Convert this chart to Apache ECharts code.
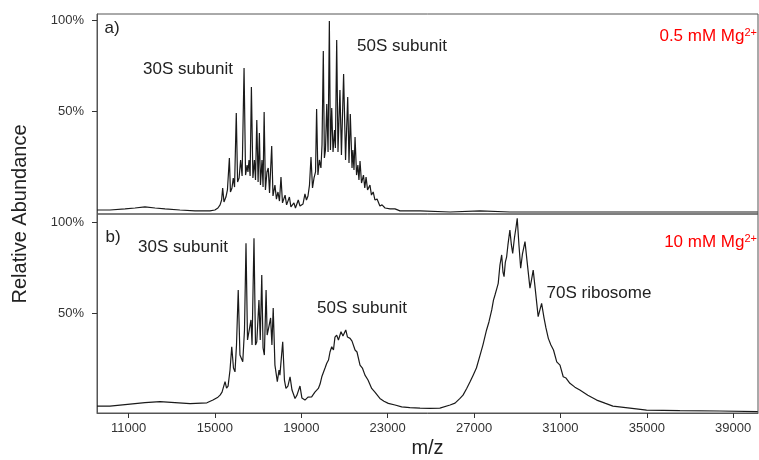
<!DOCTYPE html>
<html><head><meta charset="utf-8">
<script src="https://cdn.jsdelivr.net/npm/echarts@6/dist/echarts.min.js"></script>
<style>html,body{margin:0;padding:0;background:#fff}#c{width:759px;height:460px}</style>
</head><body><div id="c"></div>
<script>
// m/z tick labels
var xTicks = [11000, 15000, 19000, 23000, 27000, 31000, 35000, 39000];
var yTicks = [50, 100];

// Panel a) 0.5 mM Mg2+ : [m/z, relative abundance %]
var spectrumA = [
 [9540,-4.4],[10140,-4.4],[10840,-3.8],[11300,-3.3],[11760,-2.7],[12230,-3.3],[12690,-3.8],[13380,-4.4],[14080,-4.9],[14770,-4.9],
 [15000,-4.4],[15140,-3.3],[15240,-1.6],[15310,1.1],[15360,7.7],[15420,0],[15510,2.7],[15580,6.6],[15670,24.2],[15720,5.5],
 [15790,7.7],[15850,13.2],[15910,8.2],[15990,48.9],[16050,11.0],[16120,13.2],[16190,23.1],[16260,14.3],[16350,73.6],[16420,14.8],
 [16490,20.3],[16530,16.5],[16580,23.1],[16630,14.3],[16690,63.2],[16760,13.2],[16830,23.1],[16880,12.1],[16940,45.1],[17000,11.0],
 [17060,37.9],[17110,9.3],[17180,23.1],[17230,8.2],[17280,49.5],[17340,6.6],[17410,16.5],[17470,18.7],[17530,4.9],[17630,30.8],
 [17690,3.3],[17780,9.3],[17850,1.6],[17920,5.5],[17990,0.5],[18060,13.7],[18130,-0.5],[18250,3.8],[18320,-1.6],[18450,2.7],
 [18520,-2.7],[18660,-0.5],[18730,-3.3],[18860,1.1],[18940,-2.2],
 [19010,-2.7],[19080,-1.1],[19170,4.4],[19240,1.1],[19310,3.3],[19380,9.3],[19450,24.7],[19520,7.7],[19590,13.2],[19660,16.5],
 [19710,51.1],[19770,14.8],[19840,23.1],[19910,18.7],[19960,31.3],[20020,83.0],[20070,24.2],[20120,28.6],[20180,53.9],[20240,27.5],
 [20300,99.5],[20350,28.6],[20410,51.7],[20470,27.5],[20540,39.6],[20580,29.7],[20640,89.0],[20700,27.5],[20790,61.5],[20860,25.8],
 [20960,70.3],[21050,23.1],[21150,57.7],[21210,21.4],[21270,48.4],[21350,18.7],[21390,28.6],[21440,17.6],[21490,35.7],[21560,14.8],
 [21620,20.3],[21670,12.1],[21720,22.5],[21790,10.4],[21880,14.8],[21940,7.7],[22000,13.7],[22070,6.6],[22180,9.3],[22250,3.8],
 [22330,5.5],[22410,1.1],[22510,1.6],[22640,-2.2],[22740,-1.6],[22880,-3.3],[23110,-3.8],[23340,-3.8],[23570,-4.9],[24500,-4.9],
 [25890,-5.5],[27280,-4.9],[28660,-5.5],[30050,-5.5],[31440,-5.5],[32830,-5.5],[34220,-5.5],[35610,-5.5],[36990,-5.5],[38380,-5.5],[40140,-5.5]
];

// Panel b) 10 mM Mg2+ : [m/z, relative abundance %]
var spectrumB = [
 [9540,-1.1],[10140,-1.1],[11070,0],[11760,0.8],[12460,1.3],[13150,0.8],[13850,0.3],[14630,0.7],[14910,2.2],[15140,3.8],
 [15240,4.9],[15330,6.6],[15470,12.3],[15540,8.8],[15610,9.9],[15700,18.7],[15780,31.5],[15860,19.8],[15930,17.7],[16000,32.4],
 [16080,62.6],[16160,26.9],[16290,23.2],[16370,40.7],[16440,88.3],[16510,35.2],[16590,34.2],[16670,46.2],[16720,32.4],[16810,91.1],
 [16880,32.4],[16940,34.2],[17040,57.1],[17100,35.2],[17170,70.9],[17230,30.8],[17290,26.9],[17370,62.6],[17420,37.9],[17470,40.7],
 [17580,47.3],[17640,32.4],[17700,52.8],[17780,21.4],[17890,12.3],[17970,18.7],[18010,15.9],[18140,34.2],[18220,13.2],[18290,8.6],
 [18380,9.9],[18480,15.0],[18570,7.7],[18710,3.1],[18800,4.9],[18940,9.9],[19030,3.3],[19170,2.2],[19310,3.8],[19480,4.0],
 [19630,6.6],[19790,8.6],[19870,11.0],[19950,15.0],[20030,14.3],[20100,19.8],[20180,22.4],[20260,24.2],[20330,28.6],[20410,31.5],
 [20490,29.7],[20560,36.8],[20640,37.9],[20720,35.2],[20840,39.7],[20930,37.4],[21060,40.7],[21140,36.8],[21260,36.1],[21350,34.6],
 [21490,29.7],[21580,28.6],[21720,21.4],[21830,19.8],[21950,15.9],[22090,13.2],[22260,8.6],[22410,6.6],[22640,3.1],[22830,1.6],
 [23030,0.4],[23340,-0.5],[23650,-1.5],[24030,-1.9],[24500,-2.2],[24960,-2.4],[25420,-2.2],[25890,-0.5],[26120,0.5],[26350,3.1],
 [26490,4.9],[26660,8.6],[26810,12.1],[26960,15.9],[27110,19.8],[27280,26.9],[27410,32.4],[27580,40.7],[27690,45.1],[27820,51.7],
 [27900,57.1],[27970,59.9],[28060,63.7],[28120,66.3],[28200,76.4],[28280,81.9],[28340,72.5],[28390,70.0],[28450,78.0],[28510,80.9],
 [28570,87.4],[28660,95.6],[28730,87.4],[28790,82.8],[28870,91.2],[28940,96.7],[29000,102.0],[29080,87.4],[29160,74.6],[29240,82.3],
 [29360,89.2],[29450,79.1],[29590,63.7],[29660,68.1],[29740,73.6],[29840,62.6],[29970,48.0],[30050,51.7],[30130,55.3],[30240,47.3],
 [30330,41.8],[30440,36.1],[30560,32.4],[30680,29.7],[30830,23.2],[30980,21.4],[31130,15.0],[31260,14.3],[31440,11.4],[31670,9.3],
 [31900,7.7],[32270,4.9],[32680,2.2],[33060,0.5],[33430,-1.1],[34220,-2.2],[34990,-3.3],[36530,-3.6],[38380,-3.8],[40140,-4.1]
];

var FONT = 'Liberation Sans, Arial, sans-serif';
var chart = echarts.init(document.getElementById('c'), null, {renderer: 'canvas'});

function xAxisCfg(grid, showLabels) {
  return {
    type: 'value', gridIndex: grid, min: 9540, max: 40150,
    axisLine: {show: showLabels, onZero: false, lineStyle: {color: '#555', width: 1}}, splitLine: {show: false},
    axisTick: {show: showLabels, customValues: xTicks, length: 5, inside: false, lineStyle: {color: '#333', width: 1}},
    axisLabel: {show: showLabels, customValues: xTicks, fontSize: 13, color: '#333', fontFamily: FONT, margin: 9,
      formatter: function (v) { return String(v); }},
    name: showLabels ? 'm/z' : '', nameLocation: 'middle', nameGap: 25,
    nameTextStyle: {fontSize: 20, color: '#222', fontFamily: FONT}
  };
}
function yAxisCfg(grid, mn, mx) {
  return {
    type: 'value', gridIndex: grid, min: mn, max: mx,
    axisLine: {show: true, onZero: false, lineStyle: {color: '#555', width: 1}}, splitLine: {show: false},
    axisTick: {show: true, customValues: yTicks, length: 5, lineStyle: {color: '#333', width: 1}},
    axisLabel: {customValues: yTicks, formatter: function (v) { return v + '%'; }, fontSize: 13, color: '#333', fontFamily: FONT, margin: 13}
  };
}

function txt(x, y, s, color, align) {
  return {type: 'text', x: x, y: y, silent: true,
    style: {text: s, fill: color || '#222', fontSize: 17, fontFamily: FONT, align: align || 'center', verticalAlign: 'middle'}};
}
function mgTxt(x, y, s) {
  return {type: 'text', x: x, y: y, silent: true,
    style: {text: s + ' mM Mg{s|2+}', fill: '#ff0000', fontSize: 17, fontFamily: FONT, align: 'right', verticalAlign: 'middle',
      rich: {s: {fontSize: 11, fill: '#ff0000', fontFamily: FONT, verticalAlign: 'top', lineHeight: 17}}}};
}

chart.setOption({
  animation: false,
  backgroundColor: '#fff',
  grid: [
    {left: 97, top: 14, width: 661, height: 200, show: true, borderColor: '#555', borderWidth: 1, backgroundColor: 'transparent'},
    {left: 97, top: 214, width: 661, height: 199, show: true, borderColor: '#555', borderWidth: 1, backgroundColor: 'transparent'}
  ],
  xAxis: [xAxisCfg(0, false), xAxisCfg(1, true)],
  yAxis: [yAxisCfg(0, -6.6, 103.3), yAxisCfg(1, -4.9, 104.4)],
  series: [
    {type: 'line', xAxisIndex: 0, yAxisIndex: 0, data: spectrumA, showSymbol: false, symbol: 'none',
     lineStyle: {color: '#1a1a1a', width: 1.2}},
    {type: 'line', xAxisIndex: 1, yAxisIndex: 1, data: spectrumB, showSymbol: false, symbol: 'none',
     lineStyle: {color: '#1a1a1a', width: 1.2}}
  ],
  graphic: [
    txt(112, 28, 'a)'),
    txt(188, 69, '30S subunit'),
    txt(402, 46, '50S subunit'),
    mgTxt(757, 36, '0.5'),
    txt(113, 237, 'b)'),
    txt(183, 247, '30S subunit'),
    txt(362, 308, '50S subunit'),
    txt(599, 293, '70S ribosome'),
    mgTxt(757, 242, '10'),
    {type: 'text', x: 20, y: 214, rotation: Math.PI / 2, silent: true,
     style: {text: 'Relative Abundance', fill: '#222', fontSize: 20, fontFamily: FONT, align: 'center', verticalAlign: 'middle'}}
  ]
});
</script>
</body></html>
